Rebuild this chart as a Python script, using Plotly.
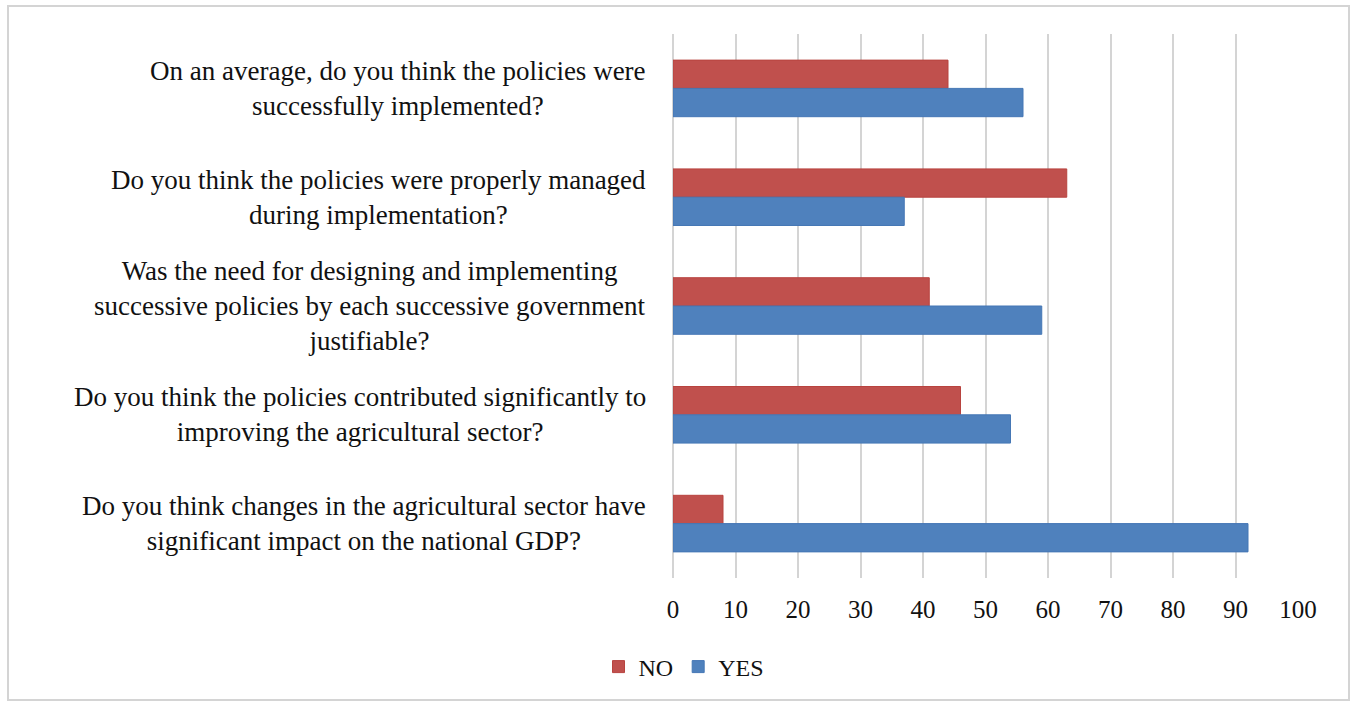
import plotly.graph_objects as go

questions = [
    "On an average, do you think the policies were<br>successfully implemented?",
    "Do you think the policies were properly managed<br>during implementation?",
    "Was the need for designing and implementing<br>successive policies by each successive government<br>justifiable?",
    "Do you think the policies contributed significantly to<br>improving the agricultural sector?",
    "Do you think changes in the agricultural sector have<br>significant impact on the national GDP?",
]
no_vals = [44, 63, 41, 46, 8]
yes_vals = [56, 37, 59, 54, 92]
x_ticks = list(range(0, 101, 10))

W, H = 1352, 705
L, R, T, B = 673, 54, 34, 127
pw, ph = W - L - R, H - T - B

fig = go.Figure()
fig.add_trace(go.Bar(name="NO", y=questions, x=no_vals, orientation="h",
                     marker=dict(color="#C0504D", line=dict(color="#B8433F", width=1))))
fig.add_trace(go.Bar(name="YES", y=questions, x=yes_vals, orientation="h",
                     marker=dict(color="#4F81BD", line=dict(color="#4577B5", width=1))))

for q in questions:
    fig.add_annotation(x=0, xref="paper", y=q, yref="y", text=q, showarrow=False,
                       xanchor="right", yanchor="middle", align="center", xshift=-25,
                       font=dict(family="Liberation Serif", size=27, color="#111"))

fig.add_shape(type="rect", xref="paper", yref="paper",
              x0=(8 - L) / pw, x1=(1349 - L) / pw, y0=(H - B - 700) / ph, y1=(H - B - 6) / ph,
              line=dict(color="#d4d4d4", width=2), fillcolor="rgba(0,0,0,0)", layer="below")

fig.update_layout(
    width=W, height=H,
    margin=dict(l=L, r=R, t=T, b=B),
    paper_bgcolor="white", plot_bgcolor="white",
    barmode="group", bargap=0.48, bargroupgap=0,
    font=dict(family="Liberation Serif", size=24, color="#111"),
    legend=dict(orientation="h", x=(684 - L) / pw, xanchor="center", y=(H - B - 667) / ph,
                yanchor="middle", font=dict(size=24), itemwidth=30, traceorder="normal"),
    xaxis=dict(range=[0, 100], tickvals=x_ticks, showgrid=True, gridcolor="#d4d4d4", gridwidth=2,
               zeroline=True, zerolinecolor="#d4d4d4", zerolinewidth=2, showline=False,
               ticks="", tickfont=dict(size=25), ticklabelstandoff=14),
    yaxis=dict(autorange="reversed", showticklabels=False, showgrid=False, zeroline=False,
               showline=False, ticks=""),
)

fig.write_html("out.html")
